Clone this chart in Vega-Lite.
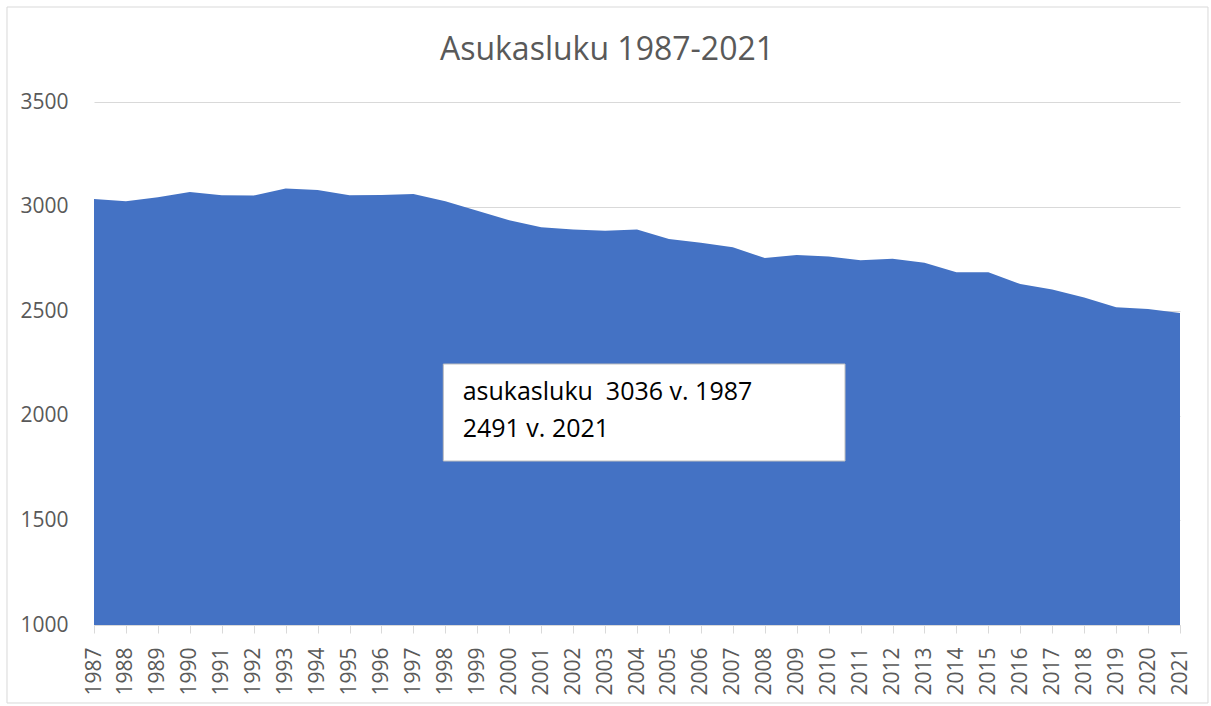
{
  "$schema": "https://vega.github.io/schema/vega-lite/v6.json",
  "width": 1086,
  "height": 523,
  "autosize": {"type": "none"},
  "padding": {"left": 94, "top": 102, "right": 31, "bottom": 81},
  "background": "white",
  "config": {
    "view": {"stroke": null},
    "axis": {"labelFont": "Open Sans", "labelFontSize": 21, "labelColor": "#595959"}
  },
  "resolve": {"scale": {"x": "independent"}},
  "data": {"values": [
    {"year": 1987, "value": 3036}, {"year": 1988, "value": 3025}, {"year": 1989, "value": 3045},
    {"year": 1990, "value": 3070}, {"year": 1991, "value": 3054}, {"year": 1992, "value": 3053},
    {"year": 1993, "value": 3087}, {"year": 1994, "value": 3079}, {"year": 1995, "value": 3054},
    {"year": 1996, "value": 3055}, {"year": 1997, "value": 3060}, {"year": 1998, "value": 3025},
    {"year": 1999, "value": 2980}, {"year": 2000, "value": 2935}, {"year": 2001, "value": 2901},
    {"year": 2002, "value": 2891}, {"year": 2003, "value": 2884}, {"year": 2004, "value": 2891},
    {"year": 2005, "value": 2845}, {"year": 2006, "value": 2827}, {"year": 2007, "value": 2806},
    {"year": 2008, "value": 2754}, {"year": 2009, "value": 2769}, {"year": 2010, "value": 2761},
    {"year": 2011, "value": 2743}, {"year": 2012, "value": 2751}, {"year": 2013, "value": 2732},
    {"year": 2014, "value": 2686}, {"year": 2015, "value": 2686}, {"year": 2016, "value": 2630},
    {"year": 2017, "value": 2604}, {"year": 2018, "value": 2566}, {"year": 2019, "value": 2519},
    {"year": 2020, "value": 2510}, {"year": 2021, "value": 2491}
  ]},
  "layer": [
    {
      "mark": {"type": "area", "color": "#4472C4"},
      "encoding": {
        "x": {"field": "year", "type": "ordinal",
          "scale": {"type": "point", "padding": 0},
          "axis": {"labelAngle": -90, "grid": false, "domainColor": "#d9d9d9", "tickColor": "#d9d9d9", "tickSize": 8, "labelPadding": 14, "title": null, "labelOverlap": false}},
        "y": {"field": "value", "type": "quantitative",
          "scale": {"domain": [1000, 3500], "nice": false, "zero": false},
          "axis": {"values": [1000, 1500, 2000, 2500, 3000, 3500], "format": "d", "domain": false, "ticks": false, "gridColor": "#d9d9d9", "labelPadding": 26, "title": null}},
        "y2": {"datum": 1000}
      }
    },
    {
      "data": {"values": [{}]},
      "mark": {"type": "rect", "fill": "white", "stroke": "#bfbfbf", "strokeWidth": 1},
      "encoding": {
        "x": {"datum": 1997.936, "type": "quantitative", "scale": {"domain": [1987, 2021], "nice": false, "zero": false}, "axis": null},
        "x2": {"datum": 2010.512},
        "y": {"datum": 2247.6, "type": "quantitative"},
        "y2": {"datum": 1783.9}
      }
    },
    {
      "data": {"values": [{}]},
      "mark": {"type": "text", "text": ["asukasluku\u00a0 3036 v. 1987", "2491 v. 2021"], "align": "left", "baseline": "middle", "lineHeight": 36.5, "font": "Open Sans", "fontSize": 25, "color": "#000000"},
      "encoding": {
        "x": {"datum": 1998.543, "type": "quantitative", "scale": {"domain": [1987, 2021], "nice": false, "zero": false}, "axis": null},
        "y": {"datum": 2111.4, "type": "quantitative"}
      }
    },
    {
      "data": {"values": [{}]},
      "mark": {"type": "text", "text": "Asukasluku 1987-2021", "align": "center", "baseline": "middle", "font": "Open Sans", "fontSize": 32, "color": "#595959"},
      "encoding": {
        "x": {"datum": 2003.06, "type": "quantitative", "scale": {"domain": [1987, 2021], "nice": false, "zero": false}, "axis": null},
        "y": {"datum": 3748.6, "type": "quantitative"}
      }
    },
    {
      "data": {"values": [{}]},
      "mark": {"type": "rect", "fill": "transparent", "stroke": "#d9d9d9", "strokeWidth": 1, "clip": false},
      "encoding": {
        "x": {"datum": 1984.276, "type": "quantitative", "scale": {"domain": [1987, 2021], "nice": false, "zero": false}, "axis": null},
        "x2": {"datum": 2021.876},
        "y": {"datum": 3954.1, "type": "quantitative"},
        "y2": {"datum": 627.2}
      }
    }
  ]
}
